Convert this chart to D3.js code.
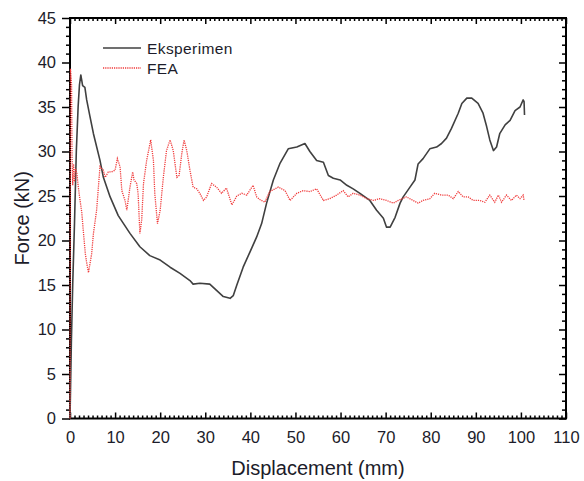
<!DOCTYPE html>
<html>
<head>
<meta charset="utf-8">
<script src="https://cdn.jsdelivr.net/npm/d3@7"></script>
<style>
  body { margin: 0; background: #fff; }
  text { font-family: "Liberation Sans", Arial, sans-serif; fill: #1c1c2a; }
</style>
</head>
<body>
<div id="chart"></div>
<script>
// Eksperimen curve (displacement mm, force kN)
var expX = [0,0.3,0.6,1.0,1.4,1.8,2.1,2.4,2.8,3.3,3.7,4.4,5.2,6.65,7.4,8.9,10.7,13.3,15.5,17.7,20.0,22.2,24.4,26.6,27.3,28.8,31.0,32.5,34.0,35.5,36.2,37.0,38.4,39.9,41.4,42.5,43.6,45.1,46.6,48.4,50.3,52.1,53.2,54.7,56.2,57.3,58.4,59.9,61.4,62.8,64.3,66.5,68.0,69.5,70.2,71.0,72.1,73.2,73.9,75.4,76.5,77.2,78.3,79.8,81.3,82.4,83.5,84.6,86.1,86.9,88.0,89.1,90.5,91.6,92.4,93.1,93.9,94.6,95.3,96.5,97.6,98.7,99.8,100.5,100.7,100.8];
var expY = [0,8.5,15,22,30,35,37.5,38.6,37.4,37.2,35.8,34,32.0,29.0,27.1,24.9,22.8,20.8,19.3,18.3,17.8,17.0,16.3,15.5,15.1,15.2,15.1,14.4,13.7,13.5,13.8,15.0,17.0,18.7,20.4,21.9,24.2,26.8,28.7,30.3,30.5,30.9,30.0,29.0,28.8,27.3,27.0,26.8,26.2,25.8,25.3,24.5,23.4,22.5,21.5,21.5,22.6,24.2,24.9,26.0,26.8,28.6,29.2,30.3,30.5,30.9,31.5,32.6,34.3,35.4,36.0,36.0,35.4,34.3,32.8,31.3,30.1,30.5,32.0,33.0,33.5,34.6,35.0,35.8,35.6,34.1];

// FEA curve
var feaX = [0,0.1,0.35,0.45,0.6,0.8,1.0,1.2,1.5,1.8,2.2,2.6,3.0,3.4,3.8,4.1,4.5,4.8,5.2,5.9,6.65,7.4,7.8,8.5,9.2,10.0,10.5,11.1,11.5,12.2,12.6,13.3,13.9,14.2,14.8,15.1,15.5,15.9,16.3,17.0,17.9,18.5,18.8,19.4,20.0,20.7,21.4,22.2,22.9,23.7,24.2,24.8,25.3,25.9,26.6,27.3,28.1,28.8,29.6,30.3,31.4,32.5,33.6,34.7,35.9,37.0,38.1,39.2,40.6,41.4,42.1,43.2,44.3,46.2,47.7,48.8,50.3,51.7,53.2,54.7,56.2,57.6,59.1,60.6,61.7,62.8,64.3,65.8,67.3,68.7,70.2,71.7,72.8,74.6,76.1,77.2,78.3,79.8,80.9,82.4,83.9,85.0,86.1,87.2,88.3,89.4,90.9,92.0,93.1,94.2,95.0,95.7,96.8,97.9,99.0,99.8,100.5,100.7];
var feaY = [0,39.3,37.5,29.4,26.2,28.6,26.6,28.1,27.6,26.2,24.6,23.2,20.8,18.5,17.2,16.4,17.6,18.5,20.8,23.4,28.3,27.9,27.1,27.7,27.7,27.9,29.2,28.3,25.6,24.5,23.4,26.0,27.7,26.8,26.4,25.3,20.8,22.3,26.4,29.0,31.3,29.0,25.3,21.9,23.4,27.1,30.1,31.3,30.1,27.1,27.3,29.8,31.3,30.1,27.9,26.0,25.8,25.3,24.5,24.9,26.4,26.0,25.3,25.9,24.0,25.0,25.3,25.1,26.2,24.9,24.6,24.3,25.5,26.0,25.6,24.5,25.3,25.6,25.5,25.8,24.5,24.7,25.1,25.6,24.9,25.3,25.1,24.7,24.5,24.7,24.5,24.2,24.5,24.9,24.5,24.2,24.5,24.7,25.3,25.1,25.1,24.7,25.5,24.9,24.9,24.5,24.5,24.3,25.1,24.3,25.1,24.3,25.1,24.5,25.1,24.7,25.1,24.5];

var xTicks = [0,10,20,30,40,50,60,70,80,90,100,110];
var yTicks = [0,5,10,15,20,25,30,35,40,45];
var seriesNames = ["Eksperimen", "FEA"];

var width = 584, height = 481;
var margin = {left: 70, right: 18, top: 18, bottom: 62.5};

var svg = d3.select("#chart").append("svg")
  .attr("width", width)
  .attr("height", height);

var x = d3.scaleLinear().domain([0, 110]).range([margin.left, width - margin.right]);
var y = d3.scaleLinear().domain([0, 45]).range([height - margin.bottom, margin.top]);

var xMinor = d3.range(0, 111, 1).filter(function(v) { return v % 10 !== 0; });
var yMinor = d3.range(0, 46, 1).filter(function(v) { return v % 5 !== 0; });

function styleAxis(g) {
  g.select(".domain").remove();
  g.selectAll("line").attr("stroke", "#000").attr("stroke-width", 1.5);
  g.selectAll("text").attr("font-size", 16.5).attr("fill", "#1c1c2a");
}

// bottom axis: ticks inward
svg.append("g")
  .attr("transform", "translate(0," + y(0) + ")")
  .call(d3.axisBottom(x).tickValues(xTicks).tickSize(-6).tickPadding(13))
  .call(styleAxis);
svg.append("g")
  .attr("transform", "translate(0," + y(0) + ")")
  .call(d3.axisBottom(x).tickValues(xMinor).tickSize(-3).tickFormat(""))
  .call(styleAxis);

// top axis: ticks inward
svg.append("g")
  .attr("transform", "translate(0," + y(45) + ")")
  .call(d3.axisTop(x).tickValues(xTicks).tickSize(-6).tickFormat(""))
  .call(styleAxis);
svg.append("g")
  .attr("transform", "translate(0," + y(45) + ")")
  .call(d3.axisTop(x).tickValues(xMinor).tickSize(-3).tickFormat(""))
  .call(styleAxis);

// left axis: ticks outward
svg.append("g")
  .attr("transform", "translate(" + x(0) + ",0)")
  .call(d3.axisLeft(y).tickValues(yTicks).tickSize(8).tickPadding(6))
  .call(styleAxis);
svg.append("g")
  .attr("transform", "translate(" + x(0) + ",0)")
  .call(d3.axisLeft(y).tickValues(yMinor).tickSize(4).tickFormat(""))
  .call(styleAxis);

// right axis: ticks inward
svg.append("g")
  .attr("transform", "translate(" + x(110) + ",0)")
  .call(d3.axisRight(y).tickValues(yTicks).tickSize(-7).tickFormat(""))
  .call(styleAxis);
svg.append("g")
  .attr("transform", "translate(" + x(110) + ",0)")
  .call(d3.axisRight(y).tickValues(yMinor).tickSize(-4).tickFormat(""))
  .call(styleAxis);

// frame
svg.append("rect")
  .attr("x", x(0)).attr("y", y(45))
  .attr("width", x(110) - x(0)).attr("height", y(0) - y(45))
  .attr("fill", "none").attr("stroke", "#000").attr("stroke-width", 2);

var line = d3.line()
  .x(function(d) { return x(d[0]); })
  .y(function(d) { return y(d[1]); });

var expData = expX.map(function(v, i) { return [v, expY[i]]; });
var feaData = feaX.map(function(v, i) { return [v, feaY[i]]; });

svg.append("path")
  .datum(expData)
  .attr("d", line)
  .attr("fill", "none")
  .attr("stroke", "#404040")
  .attr("stroke-width", 1.6)
  .attr("stroke-linejoin", "round");

svg.append("path")
  .datum(feaData)
  .attr("d", line)
  .attr("fill", "none")
  .attr("stroke", "#f03a3a")
  .attr("stroke-width", 1.3)
  .attr("stroke-dasharray", "1.2,1");

// legend
var legend = svg.append("g");
legend.append("line")
  .attr("x1", 103).attr("x2", 141).attr("y1", 48).attr("y2", 48)
  .attr("stroke", "#404040").attr("stroke-width", 1.6);
legend.append("text")
  .attr("x", 147).attr("y", 53.5)
  .attr("font-size", 15.5)
  .attr("letter-spacing", 0.4)
  .text(seriesNames[0]);
legend.append("line")
  .attr("x1", 103).attr("x2", 141).attr("y1", 68).attr("y2", 68)
  .attr("stroke", "#f03a3a").attr("stroke-width", 1.3)
  .attr("stroke-dasharray", "1.2,1");
legend.append("text")
  .attr("x", 147).attr("y", 73.5)
  .attr("font-size", 15.5)
  .attr("letter-spacing", 0.4)
  .text(seriesNames[1]);

// axis titles
svg.append("text")
  .attr("x", (x(0) + x(110)) / 2)
  .attr("y", 475)
  .attr("text-anchor", "middle")
  .attr("font-size", 20)
  .text("Displacement (mm)");

svg.append("text")
  .attr("transform", "translate(29," + ((y(0) + y(45)) / 2) + ") rotate(-90)")
  .attr("text-anchor", "middle")
  .attr("font-size", 20)
  .text("Force (kN)");
</script>
</body>
</html>
